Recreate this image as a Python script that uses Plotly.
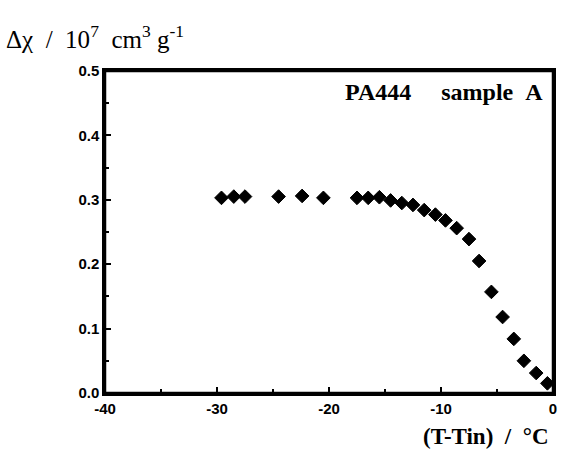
import plotly.graph_objects as go

# (T - Tin) in degC, and the susceptibility change in 10^7 cm^3/g
dT = [-29.6, -28.5, -27.5, -24.5, -22.4, -20.5, -17.5, -16.5, -15.5, -14.5,
      -13.5, -12.5, -11.5, -10.5, -9.6, -8.6, -7.5, -6.6, -5.5, -4.5,
      -3.5, -2.6, -1.5, -0.5]
dchi = [0.303, 0.305, 0.305, 0.305, 0.306, 0.303, 0.303, 0.303, 0.304, 0.299,
        0.295, 0.292, 0.284, 0.277, 0.268, 0.256, 0.239, 0.205, 0.157, 0.118,
        0.084, 0.050, 0.031, 0.015]

x_ticks = [-40, -30, -20, -10, 0]
y_ticks = [0.0, 0.1, 0.2, 0.3, 0.4, 0.5]
y_ticklabels = ["0.0", "0.1", "0.2", "0.3", "0.4", "0.5"]

SERIF = "Liberation Serif"
SANS = "Liberation Sans"
INK = "black"

fig = go.Figure()
fig.add_trace(
    go.Scatter(
        x=dT, y=dchi, mode="markers",
        marker=dict(symbol="diamond", size=10.5, color=INK, line=dict(width=1, color=INK)),
        showlegend=False, cliponaxis=False,
    )
)

axis_common = dict(
    showline=True, linecolor=INK, linewidth=2.5, mirror=True,
    showgrid=False, zeroline=False, ticks="inside", ticklen=6, tickwidth=2,
    tickcolor=INK, tickfont=dict(family=SANS, size=15, color=INK, weight="bold"),
)
fig.update_xaxes(
    range=[-40, 0], tickvals=x_ticks, ticktext=[str(v) for v in x_ticks],
    minor=dict(dtick=5, ticks="inside", ticklen=4, tickwidth=1.5, tickcolor=INK),
    **axis_common,
)
fig.update_yaxes(
    range=[0, 0.5], tickvals=y_ticks, ticktext=y_ticklabels,
    minor=dict(dtick=0.05, ticks="inside", ticklen=4, tickwidth=1.5, tickcolor=INK),
    **axis_common,
)

# frame round the plot area (the right-hand mirror line was not showing up)
fig.add_shape(
    type="rect", xref="paper", yref="paper", x0=0, x1=1, y0=0, y1=1,
    line=dict(color=INK, width=2.5), layer="above",
)

fig.add_annotation(
    xref="paper", yref="paper", x=-0.225, y=1.05, xanchor="left", yanchor="bottom",
    text="Δχ &nbsp;/&nbsp; 10<sup>7</sup> &nbsp;cm<sup>3</sup> g<sup>-1</sup>", showarrow=False,
    font=dict(family=SERIF, size=25, color=INK),
)
fig.add_annotation(
    xref="paper", yref="paper", x=0.982, y=0.98, xanchor="right", yanchor="top",
    text="<b>PA444&nbsp;&nbsp;&nbsp;&nbsp;&nbsp;sample&nbsp;&nbsp;A</b>", showarrow=False,
    font=dict(family=SERIF, size=24, color=INK),
)
fig.add_annotation(
    xref="paper", yref="paper", x=0.995, y=-0.09, xanchor="right", yanchor="top",
    text="<b>(T-Tin)&nbsp;&nbsp;/&nbsp;&nbsp;°C</b>", showarrow=False,
    font=dict(family=SERIF, size=23, color=INK),
)

fig.update_layout(
    width=562, height=452,
    margin=dict(l=105, r=5, t=71, b=59),
    paper_bgcolor="white", plot_bgcolor="white",
)
# drop the browser's default page margin so the figure sits at the top-left corner
fig.write_html(
    "out.html",
    config={"displayModeBar": False},
    post_script="document.body.style.margin='0';document.body.style.overflow='hidden';",
)
